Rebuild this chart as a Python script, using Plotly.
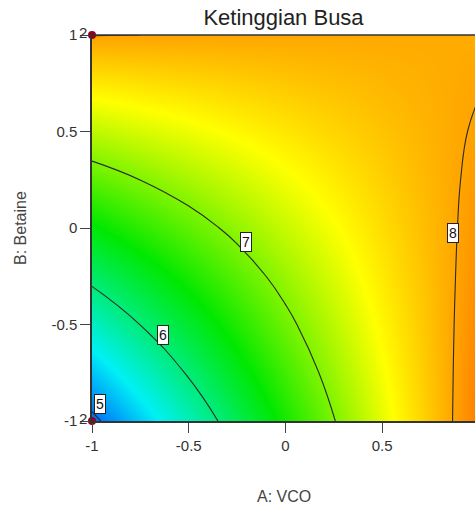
import plotly.graph_objects as go

# Factor levels (coded units) of the estimated grid
A_levels = [-1, -0.75, -0.5, -0.25, 0, 0.25, 0.5, 0.75, 1]
B_levels = [-1, -0.75, -0.5, -0.25, 0, 0.25, 0.5, 0.75, 1]

# Ketinggian Busa values (rows: B from -1 to 1, cols: A from -1 to 1)
Z = [
    [4.926, 5.338, 5.751, 6.163, 6.575, 6.987, 7.400, 7.812, 8.224],
    [5.311, 5.671, 6.031, 6.391, 6.751, 7.111, 7.471, 7.831, 8.191],
    [5.696, 6.004, 6.311, 6.619, 6.927, 7.234, 7.542, 7.850, 8.157],
    [6.081, 6.336, 6.592, 6.847, 7.102, 7.357, 7.613, 7.868, 8.123],
    [6.466, 6.669, 6.872, 7.075, 7.278, 7.481, 7.684, 7.887, 8.090],
    [6.851, 7.002, 7.153, 7.303, 7.454, 7.605, 7.756, 7.906, 8.057],
    [7.236, 7.334, 7.433, 7.531, 7.630, 7.728, 7.826, 7.925, 8.023],
    [7.621, 7.667, 7.713, 7.759, 7.805, 7.851, 7.897, 7.943, 7.989],
    [8.006, 8.000, 7.993, 7.987, 7.981, 7.975, 7.968, 7.962, 7.956],
]

contour_levels = [5, 6, 7, 8]
# label anchor points on each contour (A, B)
label_A = [-0.96, -0.635, -0.205, 0.865]
label_B = [-0.914, -0.552, -0.071, -0.024]

# design points and replicate counts
design_A = [-1, 1, -1, 1]
design_B = [-1, -1, 1, 1]
replicates = ["2", "2", "2", "2"]

tick_vals = [-1, -0.5, 0, 0.5, 1]
tick_text = ["-1", "-0.5", "0", "0.5", "1"]

title_text = "Ketinggian Busa"
x_title = "A: VCO"
y_title = "B: Betaine"

FONT = "Liberation Sans, Arial, sans-serif"

zmin, zmax = 4.5, 8.9
def nz(v):
    return (v - zmin) / (zmax - zmin)

colorscale = [
    [0.0, "rgb(0,0,255)"],
    [nz(5.5), "rgb(0,240,245)"],
    [nz(6.5), "rgb(0,232,0)"],
    [nz(7.5), "rgb(255,255,0)"],
    [1.0, "rgb(255,0,0)"],
]

fig = go.Figure()

fig.add_trace(go.Contour(
    x=A_levels, y=B_levels, z=Z,
    zmin=zmin, zmax=zmax, colorscale=colorscale, showscale=False,
    contours=dict(start=contour_levels[0], end=contour_levels[-1], size=1,
                  coloring="heatmap", showlabels=False),
    line=dict(color="#2a2a2a", width=1.1, smoothing=1.3),
    hoverinfo="skip",
))

fig.add_trace(go.Scatter(
    x=design_A, y=design_B, mode="markers",
    marker=dict(color="rgb(150,0,25)", size=8),
    cliponaxis=False, hoverinfo="skip", showlegend=False,
))

annotations = []
for lv, a, b in zip(contour_levels, label_A, label_B):
    annotations.append(dict(
        x=a, y=b, xref="x", yref="y", text=str(lv), showarrow=False,
        font=dict(family=FONT, size=14, color="#111"),
        bgcolor="white", bordercolor="#222", borderwidth=1, borderpad=1,
    ))

rep_shifts = [(-9, 3), (-10, 6), (-9, 3), (-11, 5)]
for a, b, r, (xs, ys) in zip(design_A, design_B, replicates, rep_shifts):
    annotations.append(dict(
        x=a, y=b, xref="x", yref="y", text=r, showarrow=False,
        xanchor="center", yanchor="middle", xshift=xs, yshift=ys,
        font=dict(family=FONT, size=15, color="#333"),
    ))

annotations.append(dict(
    x=0.5, y=-(496 - 421) / 386, xref="paper", yref="paper", text=x_title,
    showarrow=False, xanchor="center", yanchor="middle",
    font=dict(family=FONT, size=16, color="#444"),
))
annotations.append(dict(
    x=-(92 - 20) / 383, y=0.5, xref="paper", yref="paper", text=y_title,
    showarrow=False, xanchor="center", yanchor="middle", textangle=-90,
    font=dict(family=FONT, size=16, color="#444"),
))

fig.update_layout(
    width=475, height=506,
    margin=dict(l=92, r=0, t=35, b=85),
    paper_bgcolor="white", plot_bgcolor="white",
    title=dict(text=title_text, x=0.5, xref="paper", xanchor="center",
               y=1 - 17 / 506, yref="container", yanchor="middle",
               font=dict(family=FONT, size=22, color="#222")),
    annotations=annotations,
    showlegend=False,
)

fig.update_xaxes(
    range=[-1, 0.98], tickvals=tick_vals, ticktext=tick_text,
    ticks="outside", ticklen=10, tickwidth=1, tickcolor="#444",
    showgrid=False, zeroline=False, showline=True, linecolor="#333", linewidth=1.5,
    tickfont=dict(family=FONT, size=15, color="#333"),
)
fig.update_yaxes(
    range=[-1, 1], tickvals=tick_vals, ticktext=tick_text,
    ticks="outside", ticklen=10, tickwidth=1, tickcolor="#444",
    showgrid=False, zeroline=False, showline=True, linecolor="#333", linewidth=1.5,
    mirror=False,
    tickfont=dict(family=FONT, size=15, color="#333"),
)

# top border of the plot area
fig.add_shape(type="line", xref="paper", yref="paper", x0=0, x1=1, y0=1, y1=1,
              line=dict(color="#333", width=1.5))

fig.write_html("out.html")
